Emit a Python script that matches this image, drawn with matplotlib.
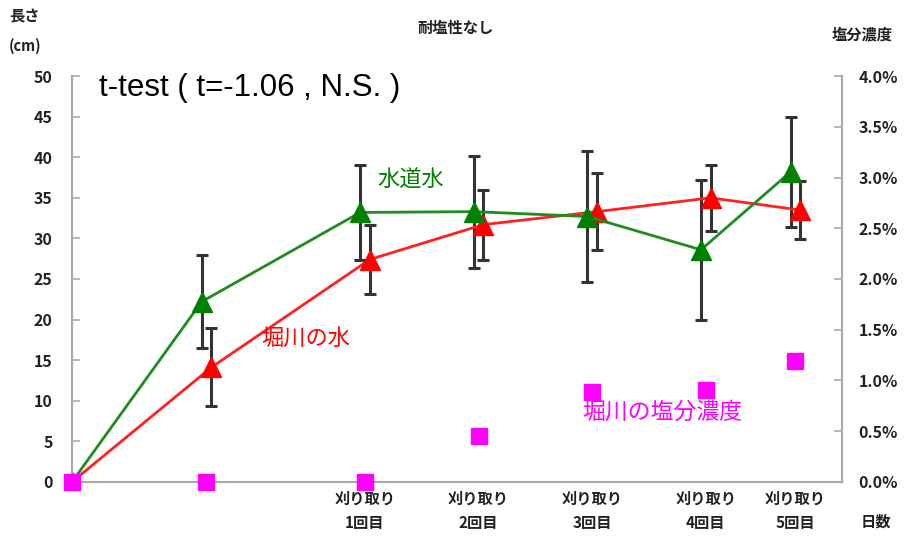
import numpy as np
import matplotlib
matplotlib.use('Agg')
from matplotlib import pyplot as plt

plt.rcParams['font.family'] = ['Noto Sans CJK JP', 'DejaVu Sans']

# days since start
days = [0, 8.4, 18.3, 25.4, 32.5, 39.6, 45.2]
tick_labels = ['刈り取り\n1回目', '刈り取り\n2回目', '刈り取り\n3回目', '刈り取り\n4回目', '刈り取り\n5回目']

tap_mean = [0, 22.2, 33.2, 33.3, 32.7, 28.6, 38.2]
tap_err = [0, 5.7, 5.9, 6.9, 8.1, 8.6, 6.8]
river_mean = [0, 14.1, 27.4, 31.7, 33.3, 35.0, 33.5]
river_err = [0, 4.8, 4.3, 4.3, 4.7, 4.1, 3.6]
salt = [0.0, 0.0, 0.0, 0.45, 0.89, 0.91, 1.19]

off = 0.3
x = np.array(days)
xg = x - off
xr = x + off
xg[0] = 0
xr[0] = 0

fig = plt.figure(figsize=(9.12, 5.36), dpi=100)
ax = fig.add_axes([0.079, 0.101, 0.844, 0.757])
ax2 = ax.twinx()

axcol = '#aaaaaa'
txtcol = '#222222'

ax.errorbar(xg[1:], tap_mean[1:], yerr=tap_err[1:], fmt='none', ecolor='#333333',
            elinewidth=2.2, capsize=4, capthick=2.2, zorder=2)
ax.errorbar(xr[1:], river_mean[1:], yerr=river_err[1:], fmt='none', ecolor='#333333',
            elinewidth=2.2, capsize=4, capthick=2.2, zorder=2)
ax.plot(xr, river_mean, color='#ff2020', lw=2, marker='^', ms=15, mec='#ff0000',
        mfc='#ff0000', zorder=3)
ax.plot(xg, tap_mean, color='#1e8c1e', lw=2, marker='^', ms=15, mec='#008000',
        mfc='#008000', zorder=4)

ax2.plot(x, salt, ls='none', marker='s', ms=12, color='#ff00ff', zorder=5, clip_on=False)

ax.set_xlim(0, 48.1)
ax.set_ylim(0, 50)
ax2.set_ylim(0, 4.0)
ax.set_yticks(np.arange(0, 51, 5))
ax2.set_yticks(np.arange(0, 4.01, 0.5))
ax2.set_yticklabels(['%.1f%%' % v for v in np.arange(0, 4.01, 0.5)])
ax.set_xticks(x[2:])
ax.set_xticklabels(tick_labels)

for a in (ax, ax2):
    for s in a.spines.values():
        s.set_color(axcol)
        s.set_linewidth(1.5)
    a.spines['top'].set_visible(False)
    a.tick_params(colors=axcol, labelcolor=txtcol, labelsize=11.5, direction='in', length=6, width=1.2)
ax.tick_params(axis='x', length=0, pad=6, labelsize=11)
ax.tick_params(axis='y', pad=14)
ax2.tick_params(axis='y', pad=12)
for lab in ax.get_xticklabels() + ax.get_yticklabels() + ax2.get_yticklabels():
    lab.set_fontweight('bold')
for lab in ax.get_xticklabels():
    lab.set_linespacing(1.7)

ax.set_zorder(ax2.get_zorder() - 1)
ax.patch.set_visible(False)

ax.text(0.035, 0.97, 't-test ( t=-1.06 , N.S. )', transform=ax.transAxes, fontsize=22.5,
        family='Liberation Sans', va='center', ha='left', color='black')
ax.text(19.1, 37.2, '水道水', color='#008000', fontsize=16, va='center')
ax.text(11.8, 17.7, '堀川の水', color='#ff0000', fontsize=16, va='center')
ax.text(31.9, 8.6, '堀川の塩分濃度', color='#ff00ff', fontsize=16.5, va='center')

fig.text(0.499, 0.948, '耐塩性なし', ha='center', va='center', fontsize=11,
         weight='bold', color=txtcol)
fig.text(0.027, 0.97, '長さ', ha='center', va='center', fontsize=11,
         weight='bold', color=txtcol)
fig.text(0.027, 0.915, '(cm)', ha='center', va='center', fontsize=10.5,
         weight='bold', color=txtcol)
fig.text(0.945, 0.935, '塩分濃度', ha='center', va='center', fontsize=11,
         weight='bold', color=txtcol)
fig.text(0.96, 0.027, '日数', ha='center', va='center', fontsize=11,
         weight='bold', color=txtcol)

fig.savefig('out.png', dpi=100)
